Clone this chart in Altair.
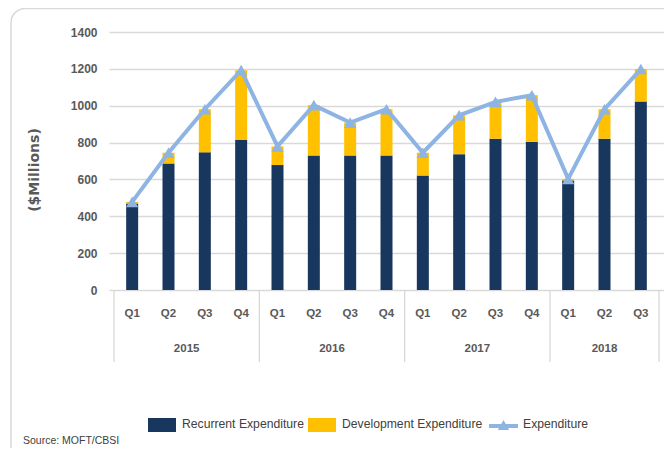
import altair as alt
import pandas as pd

# ---- data ----
quarters = ["Q1", "Q2", "Q3", "Q4", "Q1", "Q2", "Q3", "Q4",
            "Q1", "Q2", "Q3", "Q4", "Q1", "Q2", "Q3"]
years = ["2015"] * 4 + ["2016"] * 4 + ["2017"] * 4 + ["2018"] * 3
recurrent = [469, 687, 747, 814, 678, 730, 730, 730, 621, 737, 821, 805, 594, 821, 1023]
development = [9, 58, 234, 379, 101, 273, 178, 251, 124, 211, 200, 252, 9, 160, 176]
expenditure = [478, 745, 981, 1193, 779, 1003, 908, 981, 745, 948, 1021, 1057, 603, 981, 1199]

NAVY = "#17375E"
GOLD = "#FFC000"
LBLUE = "#8DB4E2"
GRID = "#D9D9D9"
TXT = "#595959"
SANS = "Liberation Sans, Arial, sans-serif"

n = len(quarters)
pos = [i + 0.5 for i in range(n)]
wide = pd.DataFrame({"pos": pos, "quarter": quarters, "year": years,
                     "Recurrent Expenditure": recurrent,
                     "Development Expenditure": development,
                     "Expenditure": expenditure})
long = pd.concat([
    pd.DataFrame({"pos": pos, "series": "Recurrent Expenditure", "value": recurrent, "ord": 0}),
    pd.DataFrame({"pos": pos, "series": "Development Expenditure", "value": development, "ord": 1}),
])
bounds = [i for i in range(n) if i == 0 or years[i] != years[i - 1]] + [n]
bdf = pd.DataFrame({"b": bounds})

xs = alt.Scale(domain=[0, n], nice=False, zero=False)
ys = alt.Scale(domain=[0, 1400], nice=False)
yaxis = alt.Axis(values=list(range(0, 1401, 200)), format="d", grid=True, ticks=False, domain=False,
                 gridColor=GRID, gridWidth=1.4,
                 labelFont=SANS, labelFontSize=12, labelFontWeight="bold",
                 labelColor=TXT, labelPadding=12,
                 titleFont="DejaVu Sans", titleFontSize=14,
                 titleFontWeight="bold", titleColor=TXT, titleAngle=270,
                 titleX=-75, titleY=137.5, titleAlign="center", titleBaseline="middle")
YT = "($Millions)"

bars = alt.Chart(long).mark_bar(size=12).encode(
    x=alt.X("pos:Q", scale=xs, axis=None),
    y=alt.Y("value:Q", stack="zero", scale=ys, axis=yaxis, title=YT),
    color=alt.Color("series:N", scale=alt.Scale(
        domain=["Recurrent Expenditure", "Development Expenditure"], range=[NAVY, GOLD]), legend=None),
    order=alt.Order("ord:Q", sort="ascending"),
)

line = alt.Chart(wide).mark_line(color=LBLUE, strokeWidth=4).encode(
    x=alt.X("pos:Q", scale=xs, axis=None),
    y=alt.Y("Expenditure:Q", scale=ys, axis=yaxis, title=YT),
)
pts = alt.Chart(wide).mark_point(shape="triangle-up", filled=True, size=150, opacity=1,
                                 color=LBLUE).encode(
    x=alt.X("pos:Q", scale=xs, axis=None),
    y=alt.Y("Expenditure:Q", scale=ys, axis=yaxis, title=YT),
)

seps = alt.Chart(bdf).mark_rule(color=GRID, strokeWidth=1.3).encode(
    x=alt.X("b:Q", scale=xs, axis=None),
    y=alt.value(258), y2=alt.value(330),
)

qlab = alt.Chart(wide).mark_text(font=SANS, fontSize=11.5, fontWeight="bold", color=TXT,
                                 baseline="middle").encode(
    x=alt.X("pos:Q", scale=xs, axis=None), y=alt.value(282), text="quarter:N")

ylab = alt.Chart(wide).transform_aggregate(
    c="mean(pos)", groupby=["year"]
).mark_text(font=SANS, fontSize=11.5, fontWeight="bold", color=TXT, baseline="middle").encode(
    x=alt.X("c:Q", scale=xs, axis=None), y=alt.value(317), text="year:N")

one = pd.DataFrame({"k": [0]})
frame = alt.Chart(one).mark_rect(fillOpacity=0, stroke=GRID, strokeWidth=1.5, cornerRadius=14).encode(
    x=alt.value(-98), x2=alt.value(580), y=alt.value(-23.5), y2=alt.value(440))

def legtext(label, x, y, size=12.2):
    return alt.Chart(pd.DataFrame({"t": [label]})).mark_text(
        font=SANS, fontSize=size, color="#404040", align="left", baseline="middle").encode(
        x=alt.value(x), y=alt.value(y), text="t:N")

leg_r = alt.Chart(one).mark_rect(color=NAVY).encode(
    x=alt.value(39), x2=alt.value(67), y=alt.value(386), y2=alt.value(400))
leg_d = alt.Chart(one).mark_rect(color=GOLD).encode(
    x=alt.value(199), x2=alt.value(227), y=alt.value(386), y2=alt.value(400))
leg_l = alt.Chart(one).mark_rule(color=LBLUE, strokeWidth=4).encode(
    x=alt.value(380), x2=alt.value(409), y=alt.value(394))
leg_p = alt.Chart(one).mark_point(shape="triangle-up", filled=True, size=130, opacity=1,
                                  color=LBLUE).encode(x=alt.value(394.5), y=alt.value(393))

chart = alt.layer(
    frame, bars, line, pts, seps, qlab, ylab,
    leg_r, leg_d, leg_l, leg_p,
    legtext("Recurrent Expenditure", 73, 392),
    legtext("Development Expenditure", 233, 392),
    legtext("Expenditure", 414, 392),
    legtext("Source: MOFT/CBSI", -86, 409, 10.5),
).properties(
    width=555, height=258,
    autosize=alt.AutoSizeParams(type="none"),
    padding={"left": 101, "top": 24, "right": 0, "bottom": 158},
    background="white",
).configure_view(stroke=None)

chart.save("out.html", embed_options={"renderer": "svg", "actions": False})
